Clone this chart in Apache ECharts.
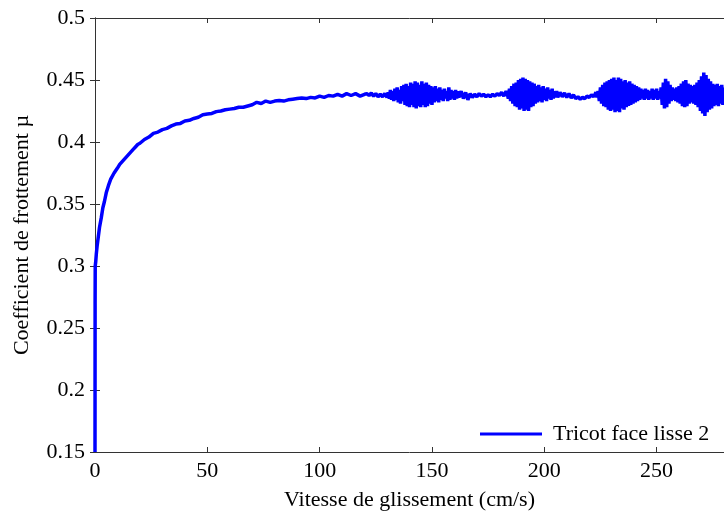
<!DOCTYPE html>
<html><head><meta charset="utf-8">
<script src="https://cdn.jsdelivr.net/npm/echarts@6/dist/echarts.min.js"></script>
<style>html,body{margin:0;padding:0;background:#fff}#c{width:724px;height:516px}</style>
</head><body><div id="c"></div>
<script>
// ---- data: [sliding speed (cm/s), friction coefficient µ] ----
const seriesName = "Tricot face lisse 2";
const xTicks = [0, 50, 100, 150, 200, 250];
const yTicks = [0.15, 0.2, 0.25, 0.3, 0.35, 0.4, 0.45, 0.5];

const rise = [[0,0.15],[0.05,0.27],[0.1,0.30],[0.3,0.303],[0.6,0.31],[1,0.317],[1.5,0.324],[2,0.331],[2.8,0.339],[3.5,0.347],[4.2,0.352],[5,0.359],[6,0.365],[7,0.370],[8.5,0.375],[10,0.379],[11,0.382],[12,0.384],[13,0.386],[14.5,0.389],[16,0.392],[17,0.394],[18,0.396],[19,0.398],[20,0.399],[22,0.402],[24,0.404],[26,0.407],[28,0.408],[30,0.410],[32,0.411],[34,0.413],[36,0.4145],[38,0.415],[40,0.417],[42,0.4175],[44,0.419],[46,0.420],[48,0.422],[50,0.4225],[52,0.423],[54,0.4245],[56,0.425],[58,0.426],[60,0.4265],[62,0.427],[64,0.428],[66,0.428],[68,0.429],[70,0.430],[72,0.432],[74,0.431],[76,0.433],[78,0.432],[80,0.433],[82,0.4335],[84,0.433],[86,0.434],[88,0.4345],[90,0.435],[92,0.4355],[94,0.435],[96,0.436],[98,0.4355],[100,0.437],[102,0.436],[104,0.4375],[106,0.437],[108,0.4385],[110,0.437],[112,0.439],[114,0.4375],[116,0.439],[118,0.437],[120,0.4385]];

const calm1 = [[121,0.439],[122,0.4375],[123,0.4395],[124,0.437],[125,0.439],[126,0.4365],[127,0.4385],[128,0.4365],[129,0.439],[130,0.436]];

const burst1 = [[130.5,0.440],[131,0.435],[131.5,0.442],[132,0.434],[132.5,0.441],[133,0.433],[133.5,0.443],[134,0.434],[134.5,0.444],[135,0.432],[135.5,0.442],[136,0.431],[136.5,0.445],[137,0.433],[137.5,0.446],[138,0.430],[138.5,0.447],[139,0.429],[139.5,0.445],[140,0.428],[140.5,0.448],[141,0.430],[141.5,0.447],[142,0.428],[142.5,0.449],[143,0.427],[143.5,0.448],[144,0.429],[144.5,0.446],[145,0.428],[145.5,0.449],[146,0.430],[146.5,0.447],[147,0.428],[147.5,0.448],[148,0.429],[148.5,0.446],[149,0.431],[149.5,0.445],[150,0.430],[150.5,0.444],[151,0.432],[151.5,0.445],[152,0.433],[152.5,0.443],[153,0.432],[153.5,0.444],[154,0.434],[154.5,0.442],[155,0.433],[155.5,0.443],[156,0.435],[156.5,0.441],[157,0.433],[157.5,0.444],[158,0.434],[158.5,0.442],[159,0.435],[159.5,0.441],[160,0.434],[160.5,0.442],[161,0.435],[161.5,0.441],[162,0.436]];

const calm2 = [[163,0.441],[164,0.435],[165,0.440],[166,0.434],[167,0.439],[168,0.436],[169,0.4385],[170,0.4365],[171,0.439],[172,0.437],[173,0.4385],[174,0.4365],[175,0.438],[176,0.4365],[177,0.4385],[178,0.437],[179,0.439],[180,0.4375],[181,0.440],[182,0.437],[183,0.441]];

const burst2 = [[183.5,0.439],[184,0.435],[184.5,0.443],[185,0.433],[185.5,0.445],[186,0.431],[186.5,0.447],[187,0.429],[187.5,0.448],[188,0.428],[188.5,0.450],[189,0.426],[189.5,0.451],[190,0.427],[190.5,0.452],[191,0.425],[191.5,0.451],[192,0.426],[192.5,0.450],[193,0.425],[193.5,0.449],[194,0.428],[194.5,0.448],[195,0.429],[195.5,0.447],[196,0.431],[196.5,0.445],[197,0.432],[197.5,0.446],[198,0.433],[198.5,0.444],[199,0.432],[199.5,0.445],[200,0.434],[200.5,0.443],[201,0.433],[201.5,0.444],[202,0.435],[202.5,0.442],[203,0.434],[203.5,0.443],[204,0.435],[204.5,0.441],[205,0.436],[205.5,0.441],[206,0.436]];

const calm3 = [[207,0.440],[208,0.4365],[209,0.4395],[210,0.436],[211,0.439],[212,0.4355],[213,0.438],[214,0.435],[215,0.4365],[216,0.4345],[217,0.436],[218,0.435],[219,0.437],[220,0.436],[221,0.438],[222,0.4365],[223,0.440]];

const burst3 = [[223.5,0.436],[224,0.441],[224.5,0.433],[225,0.444],[225.5,0.431],[226,0.446],[226.5,0.429],[227,0.448],[227.5,0.428],[228,0.449],[228.5,0.426],[229,0.450],[229.5,0.425],[230,0.451],[230.5,0.426],[231,0.452],[231.5,0.424],[232,0.450],[232.5,0.425],[233,0.452],[233.5,0.424],[234,0.451],[234.5,0.427],[235,0.449],[235.5,0.426],[236,0.450],[236.5,0.428],[237,0.448],[237.5,0.429],[238,0.449],[238.5,0.430],[239,0.447],[239.5,0.431],[240,0.446],[240.5,0.432],[241,0.445],[241.5,0.433],[242,0.444],[242.5,0.434],[243,0.443],[243.5,0.435],[244,0.442],[244.5,0.434],[245,0.443],[245.5,0.435],[246,0.442],[246.5,0.434],[247,0.441],[247.5,0.435],[248,0.443],[248.5,0.434],[249,0.442],[249.5,0.435],[250,0.443],[250.5,0.434],[251,0.441],[251.5,0.435],[252,0.444],[252.5,0.430],[253,0.448],[253.5,0.427],[254,0.451],[254.5,0.428],[255,0.449],[255.5,0.431],[256,0.446],[256.5,0.433],[257,0.444],[257.5,0.434],[258,0.443],[258.5,0.433],[259,0.444],[259.5,0.432],[260,0.445],[260.5,0.431],[261,0.447],[261.5,0.429],[262,0.449],[262.5,0.428],[263,0.450],[263.5,0.429],[264,0.447],[264.5,0.431],[265,0.446],[265.5,0.432],[266,0.445],[266.5,0.431],[267,0.446],[267.5,0.430],[268,0.448],[268.5,0.428],[269,0.450],[269.5,0.425],[270,0.453],[270.5,0.423],[271,0.456],[271.5,0.421],[272,0.454],[272.5,0.424],[273,0.451],[273.5,0.426],[274,0.449],[274.5,0.427],[275,0.447],[275.5,0.429],[276,0.446],[276.5,0.430],[277,0.447],[277.5,0.429],[278,0.445],[278.5,0.431],[279,0.446],[279.5,0.430],[280,0.444]];

const points = [].concat(rise, calm1, burst1, calm2, burst2, calm3, burst3);

const FONT = "'Liberation Serif','Times New Roman',serif";
const axisColor = '#333';
const chart = echarts.init(document.getElementById('c'), null, {renderer: 'canvas'});
const fmt = v => String(parseFloat(v.toFixed(2)));
chart.setOption({
  animation: false,
  backgroundColor: '#fff',
  grid: {left: 95, top: 18, width: 636, height: 438, containLabel: false},
  xAxis: [{
    type: 'value', min: 0, max: 280, interval: 50, position: 'bottom',
    name: 'Vitesse de glissement (cm/s)', nameLocation: 'middle', nameGap: 37,
    nameTextStyle: {fontFamily: FONT, fontSize: 22, color: '#000'},
    axisLine: {show: true, lineStyle: {color: axisColor, width: 1}},
    axisTick: {show: true, inside: true, length: 5, lineStyle: {color: axisColor}},
    axisLabel: {fontFamily: FONT, fontSize: 22, color: '#000', margin: 8, showMaxLabel: false,
      formatter: v => xTicks.includes(v) ? String(v) : ''},
    splitLine: {show: false}
  }, {
    type: 'value', min: 0, max: 280, interval: 50, position: 'top',
    axisLine: {show: true, lineStyle: {color: axisColor, width: 1}},
    axisTick: {show: true, inside: true, length: 5, lineStyle: {color: axisColor}},
    axisLabel: {show: false}, splitLine: {show: false}
  }],
  yAxis: [{
    type: 'value', min: 0.15, max: 0.5, interval: 0.05, position: 'left',
    name: 'Coefficient de frottement µ', nameLocation: 'middle', nameGap: 62, nameRotate: 90,
    nameTextStyle: {fontFamily: FONT, fontSize: 22, color: '#000'},
    axisLine: {show: true, lineStyle: {color: axisColor, width: 1}},
    axisTick: {show: true, inside: true, length: 5, lineStyle: {color: axisColor}},
    axisLabel: {fontFamily: FONT, fontSize: 22, color: '#000', margin: 10,
      formatter: v => { const s = fmt(v); return yTicks.map(String).includes(s) ? s : ''; }},
    splitLine: {show: false}
  }, {
    type: 'value', min: 0.15, max: 0.5, interval: 0.05, position: 'right',
    axisLine: {show: true, lineStyle: {color: axisColor, width: 1}},
    axisTick: {show: true, inside: true, length: 5, lineStyle: {color: axisColor}},
    axisLabel: {show: false}, splitLine: {show: false}
  }],
  legend: {
    left: 475, top: 418, itemWidth: 62, itemHeight: 3, itemGap: 0, icon: 'rect',
    data: [{name: seriesName}],
    textStyle: {fontFamily: FONT, fontSize: 22, color: '#000', padding: [0, 0, 0, 6]}
  },
  series: [{
    name: seriesName, type: 'line', data: points, xAxisIndex: 0, yAxisIndex: 0,
    symbol: 'none', showSymbol: false, smooth: false,
    lineStyle: {color: '#0000ff', width: 3.5}, itemStyle: {color: '#0000ff'}
  }]
});
</script></body></html>
